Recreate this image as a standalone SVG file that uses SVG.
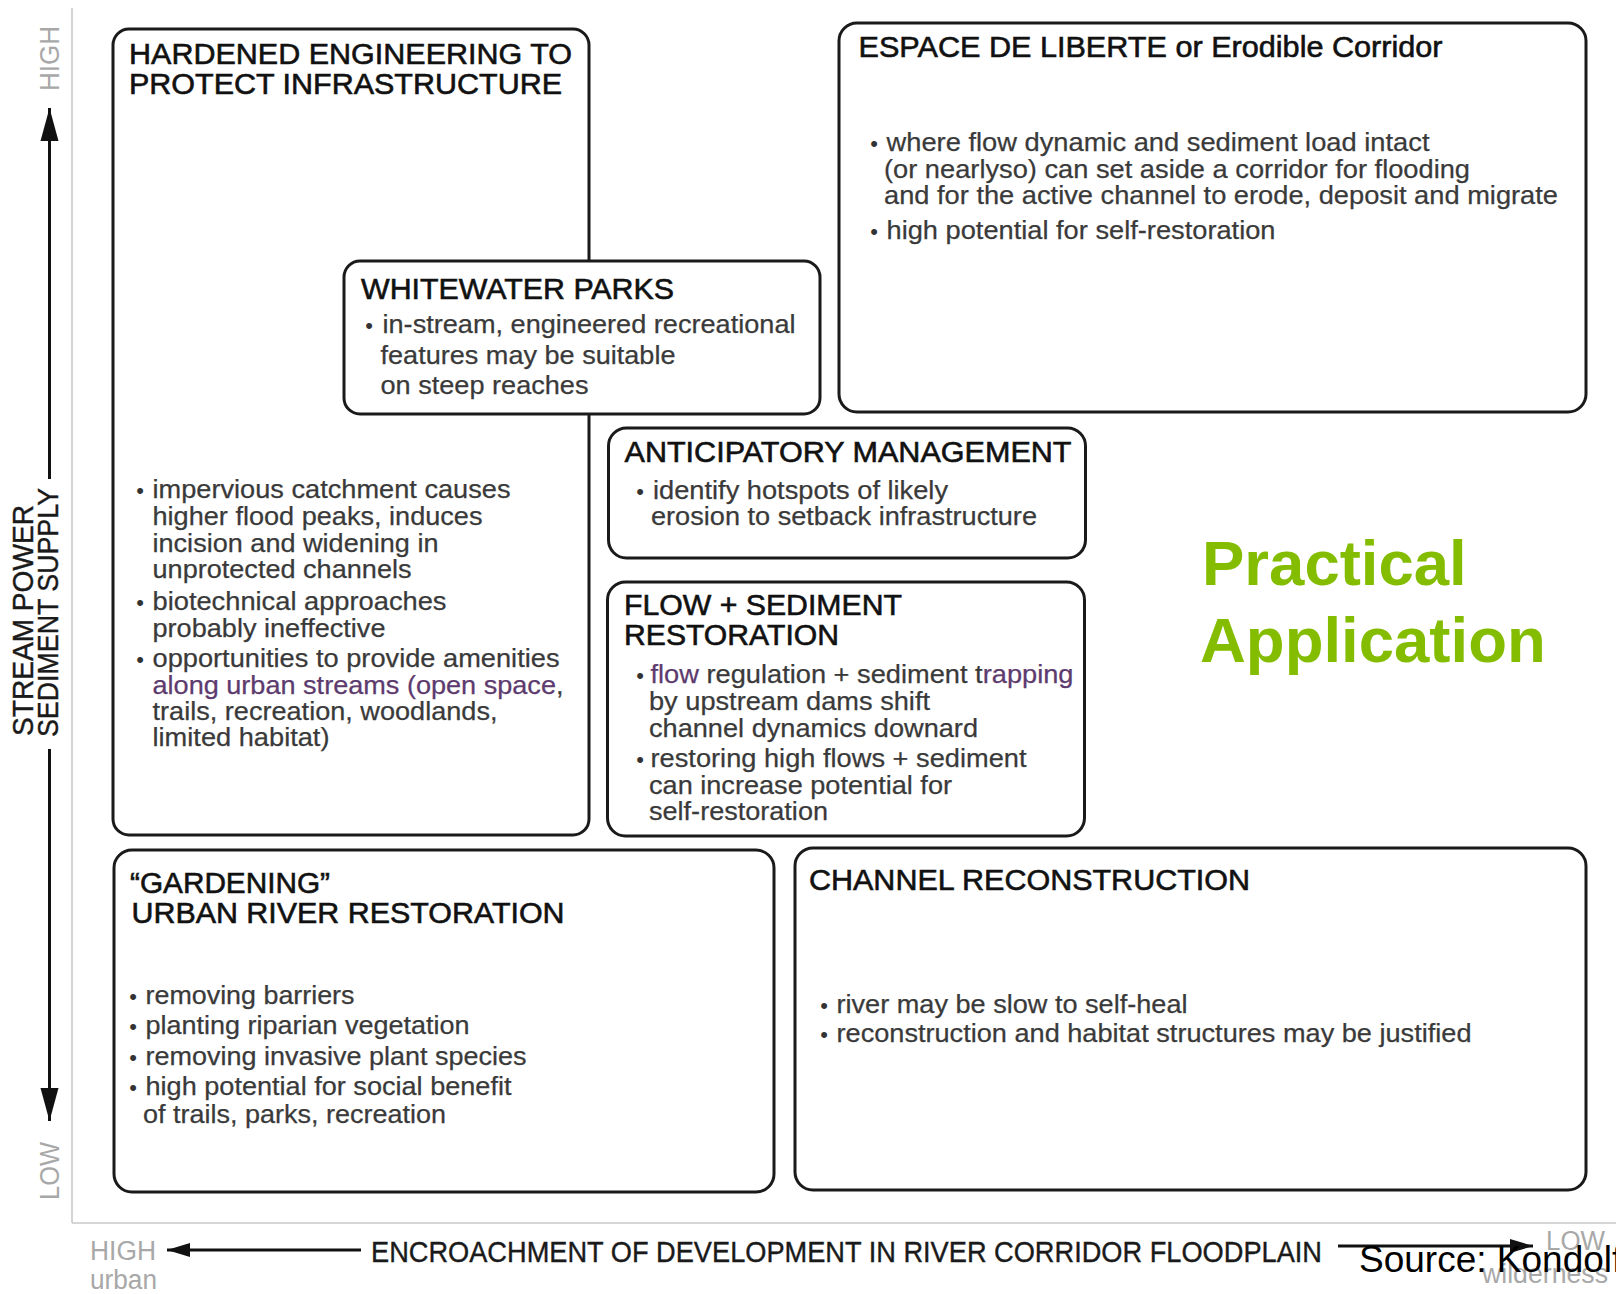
<svg xmlns="http://www.w3.org/2000/svg" width="1616" height="1294" viewBox="0 0 1616 1294">
<style>
text { font-family: "Liberation Sans", Arial, sans-serif; }
.box { fill: #ffffff; stroke: #1a1a1a; stroke-width: 3; }
.h { font-size: 30px; fill: #111; stroke: #111; stroke-width: 0.6; }
.b { font-size: 26px; fill: #3a3a3a; stroke: #3a3a3a; stroke-width: 0.25; }
.bul { font-size: 22px; fill: #333; text-anchor: middle; }
.pur { fill: #5d3b6e; stroke: #5d3b6e; }
.ax { font-size: 27px; fill: #a8a8a8; }
.axt { font-size: 30px; fill: #1a1a1a; stroke: #1a1a1a; stroke-width: 0.4; }
.axl { stroke: #111; stroke-width: 3; fill: none; }
.green { font-size: 63.5px; font-weight: bold; fill: #84bd00; }
</style>
<defs>
<marker id="arrV" markerUnits="userSpaceOnUse" markerWidth="34" markerHeight="20" refX="33" refY="10" orient="auto">
<path d="M0,1 L33,10 L0,19 z" fill="#111"/>
</marker>
<marker id="arrH" markerUnits="userSpaceOnUse" markerWidth="24" markerHeight="16" refX="23" refY="8" orient="auto">
<path d="M0,1 L23,8 L0,15 z" fill="#111"/>
</marker>
</defs>
<rect width="1616" height="1294" fill="#ffffff"/>

<g id="frame">
<line x1="72" y1="8" x2="72" y2="1223" stroke="#d4d4d4" stroke-width="2"/>
<line x1="72" y1="1223" x2="1616" y2="1223" stroke="#c8c8c8" stroke-width="1.5"/>
</g>

<g id="connectors">
<line class="axl" x1="49.5" y1="479" x2="49.5" y2="108" marker-end="url(#arrV)"/>
<line class="axl" x1="49.5" y1="749" x2="49.5" y2="1121" marker-end="url(#arrV)"/>
<line class="axl" x1="361" y1="1250" x2="167" y2="1250" marker-end="url(#arrH)"/>
<line class="axl" x1="1338" y1="1246" x2="1533" y2="1246" marker-end="url(#arrH)"/>
</g>

<g id="axis-labels">
<text class="ax" transform="translate(59,58.5) rotate(-90)" text-anchor="middle" textLength="65" lengthAdjust="spacingAndGlyphs">HIGH</text>
<text class="ax" transform="translate(59,1171) rotate(-90)" text-anchor="middle" textLength="58" lengthAdjust="spacingAndGlyphs">LOW</text>
<text class="axt" transform="translate(32.5,736) rotate(-90)" textLength="231" lengthAdjust="spacingAndGlyphs">STREAM POWER</text>
<text class="axt" transform="translate(58,737) rotate(-90)" textLength="249" lengthAdjust="spacingAndGlyphs">SEDIMENT SUPPLY</text>
<text class="ax" x="90" y="1260" textLength="66" lengthAdjust="spacingAndGlyphs">HIGH</text>
<text class="ax" x="90" y="1289" textLength="67" lengthAdjust="spacingAndGlyphs">urban</text>
<text class="axt" x="371" y="1262" textLength="951" lengthAdjust="spacingAndGlyphs">ENCROACHMENT OF DEVELOPMENT IN RIVER CORRIDOR FLOODPLAIN</text>
<text class="ax" x="1546" y="1250" font-size="24" textLength="59" lengthAdjust="spacingAndGlyphs">LOW</text>
<text class="ax" x="1482" y="1283" textLength="126" lengthAdjust="spacingAndGlyphs">wilderness</text>
</g>

<g id="hardened">
<rect class="box" x="113" y="29" width="476" height="806" rx="16"/>
<text class="h" x="129" y="64" textLength="443" lengthAdjust="spacingAndGlyphs">HARDENED ENGINEERING TO</text>
<text class="h" x="129" y="94" textLength="433" lengthAdjust="spacingAndGlyphs">PROTECT INFRASTRUCTURE</text>
<text class="bul" x="140" y="498">•</text>
<text class="b" x="152.5" y="498" textLength="358" lengthAdjust="spacingAndGlyphs">impervious catchment causes</text>
<text class="b" x="152.5" y="525" textLength="330" lengthAdjust="spacingAndGlyphs">higher flood peaks, induces</text>
<text class="b" x="152.5" y="552" textLength="286" lengthAdjust="spacingAndGlyphs">incision and widening in</text>
<text class="b" x="152.5" y="578" textLength="259" lengthAdjust="spacingAndGlyphs">unprotected channels</text>
<text class="bul" x="140" y="610">•</text>
<text class="b" x="152.5" y="610" textLength="294" lengthAdjust="spacingAndGlyphs">biotechnical approaches</text>
<text class="b" x="152.5" y="637" textLength="233" lengthAdjust="spacingAndGlyphs">probably ineffective</text>
<text class="bul" x="140" y="667">•</text>
<text class="b" x="152.5" y="667" textLength="407" lengthAdjust="spacingAndGlyphs">opportunities to provide amenities</text>
<text class="b" x="152.5" y="693.5" textLength="411" lengthAdjust="spacingAndGlyphs"><tspan class="pur">along urban streams (open space</tspan>,</text>
<text class="b" x="152.5" y="720" textLength="345" lengthAdjust="spacingAndGlyphs">trails, recreation, woodlands,</text>
<text class="b" x="152.5" y="746" textLength="177" lengthAdjust="spacingAndGlyphs">limited habitat)</text>
</g>

<g id="whitewater">
<rect class="box" x="344" y="261" width="476" height="153" rx="16"/>
<text class="h" x="361" y="298.5" textLength="313" lengthAdjust="spacingAndGlyphs">WHITEWATER PARKS</text>
<text class="bul" x="369" y="333">•</text>
<text class="b" x="382.5" y="333" textLength="413" lengthAdjust="spacingAndGlyphs">in-stream, engineered recreational</text>
<text class="b" x="380.5" y="364" textLength="295" lengthAdjust="spacingAndGlyphs">features may be suitable</text>
<text class="b" x="380.5" y="394" textLength="208" lengthAdjust="spacingAndGlyphs">on steep reaches</text>
</g>

<g id="espace">
<rect class="box" x="839" y="23" width="747" height="389" rx="18"/>
<text class="h" x="858.5" y="57" textLength="584" lengthAdjust="spacingAndGlyphs">ESPACE DE LIBERTE or Erodible Corridor</text>
<text class="bul" x="874" y="151">•</text>
<text class="b" x="886.5" y="151" textLength="543" lengthAdjust="spacingAndGlyphs">where flow dynamic and sediment load intact</text>
<text class="b" x="884" y="178" textLength="586" lengthAdjust="spacingAndGlyphs">(or nearlyso) can set aside a corridor for flooding</text>
<text class="b" x="884" y="204" textLength="674" lengthAdjust="spacingAndGlyphs">and for the active channel to erode, deposit and migrate</text>
<text class="bul" x="874" y="238.5">•</text>
<text class="b" x="886.5" y="238.5" textLength="389" lengthAdjust="spacingAndGlyphs">high potential for self-restoration</text>
</g>

<g id="anticipatory">
<rect class="box" x="608.5" y="428" width="477" height="130" rx="18"/>
<text class="h" x="624.5" y="461.5" textLength="447" lengthAdjust="spacingAndGlyphs">ANTICIPATORY MANAGEMENT</text>
<text class="bul" x="640" y="498.5">•</text>
<text class="b" x="653" y="498.5" textLength="295" lengthAdjust="spacingAndGlyphs">identify hotspots of likely</text>
<text class="b" x="651" y="525" textLength="386" lengthAdjust="spacingAndGlyphs">erosion to setback infrastructure</text>
</g>

<g id="flow-sediment">
<rect class="box" x="607.5" y="582" width="477" height="254" rx="18"/>
<text class="h" x="624" y="614.5" textLength="278" lengthAdjust="spacingAndGlyphs">FLOW + SEDIMENT</text>
<text class="h" x="624" y="645" textLength="215" lengthAdjust="spacingAndGlyphs">RESTORATION</text>
<text class="bul" x="640" y="683">•</text>
<text class="b" x="650.5" y="683" textLength="423" lengthAdjust="spacingAndGlyphs"><tspan class="pur">flow</tspan> regulation + sediment t<tspan class="pur">rapping</tspan></text>
<text class="b" x="649" y="710" textLength="281" lengthAdjust="spacingAndGlyphs">by upstream dams shift</text>
<text class="b" x="649" y="737" textLength="329" lengthAdjust="spacingAndGlyphs">channel dynamics downard</text>
<text class="bul" x="640" y="766.5">•</text>
<text class="b" x="650.5" y="766.5" textLength="376" lengthAdjust="spacingAndGlyphs">restoring high flows + sediment</text>
<text class="b" x="649" y="793.5" textLength="303" lengthAdjust="spacingAndGlyphs">can increase potential for</text>
<text class="b" x="649" y="820" textLength="179" lengthAdjust="spacingAndGlyphs">self-restoration</text>
</g>

<g id="gardening">
<rect class="box" x="114" y="850" width="660" height="342" rx="18"/>
<text class="h" x="130" y="893" textLength="200" lengthAdjust="spacingAndGlyphs">“GARDENING”</text>
<text class="h" x="131.5" y="923" textLength="433" lengthAdjust="spacingAndGlyphs">URBAN RIVER RESTORATION</text>
<text class="bul" x="133" y="1003.5">•</text>
<text class="b" x="145.5" y="1003.5" textLength="209" lengthAdjust="spacingAndGlyphs">removing barriers</text>
<text class="bul" x="133" y="1034">•</text>
<text class="b" x="145.5" y="1034" textLength="324" lengthAdjust="spacingAndGlyphs">planting riparian vegetation</text>
<text class="bul" x="133" y="1064.5">•</text>
<text class="b" x="145.5" y="1064.5" textLength="381" lengthAdjust="spacingAndGlyphs">removing invasive plant species</text>
<text class="bul" x="133" y="1094.5">•</text>
<text class="b" x="145.5" y="1094.5" textLength="366" lengthAdjust="spacingAndGlyphs">high potential for social benefit</text>
<text class="b" x="143" y="1122.5" textLength="303" lengthAdjust="spacingAndGlyphs">of trails, parks, recreation</text>
</g>

<g id="channel-reconstruction">
<rect class="box" x="795" y="848" width="791" height="342" rx="18"/>
<text class="h" x="809" y="890" textLength="441" lengthAdjust="spacingAndGlyphs">CHANNEL RECONSTRUCTION</text>
<text class="bul" x="824" y="1012.5">•</text>
<text class="b" x="836.5" y="1012.5" textLength="351" lengthAdjust="spacingAndGlyphs">river may be slow to self-heal</text>
<text class="bul" x="824" y="1041.5">•</text>
<text class="b" x="836.5" y="1041.5" textLength="635" lengthAdjust="spacingAndGlyphs">reconstruction and habitat structures may be justified</text>
</g>

<g id="practical-application">
<text class="green" x="1202" y="585">Practical</text>
<text class="green" x="1200" y="662">Application</text>
</g>

<g id="source">
<text x="1359" y="1272" font-size="37" fill="#000">Source: Kondolf</text>
</g>
</svg>
